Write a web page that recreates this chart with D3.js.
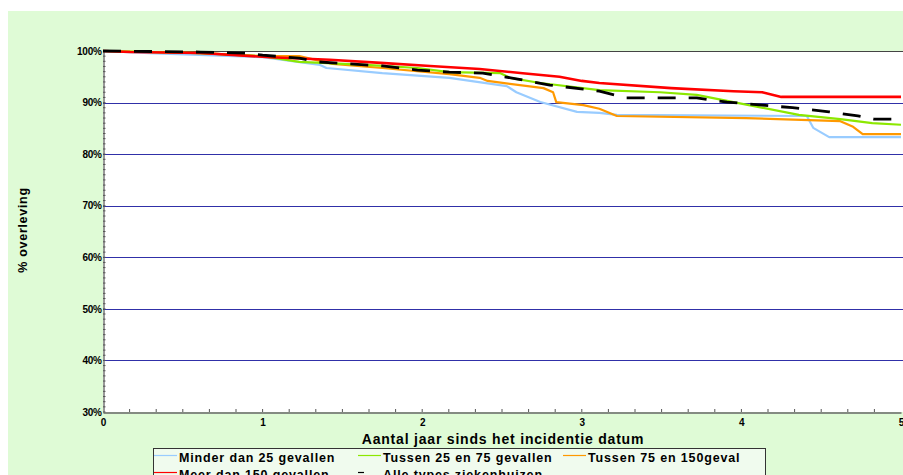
<!DOCTYPE html>
<html>
<head>
<meta charset="utf-8">
<script src="https://cdn.jsdelivr.net/npm/d3@7/dist/d3.min.js"></script>
<style>
  html, body { margin: 0; padding: 0; background: #ffffff; }
  svg { display: block; }
  text { font-family: "Liberation Sans", Arial, Helvetica, sans-serif; fill: #000; }
</style>
</head>
<body>
<div id="chart"></div>
<script>
// Survival (% overleving) by years since incidence date, per hospital volume group
const yTickValues = [30, 40, 50, 60, 70, 80, 90, 100];
const xTickValues = [0, 1, 2, 3, 4, 5];

const minderT = [0, 0.29, 1.0, 1.36, 1.4, 1.75, 2.17, 2.53, 2.59, 2.74, 2.97, 3.11, 3.22, 4.41, 4.45, 4.55, 5.0];
const minderV = [100, 99.6, 98.8, 97.3, 96.7, 95.7, 94.8, 93.2, 92.0, 90.1, 88.2, 88.0, 87.6, 87.4, 85.1, 83.3, 83.3];

const tussen25T = [0, 0.61, 1.0, 1.23, 1.65, 1.97, 2.17, 2.49, 2.55, 2.74, 3.11, 3.49, 3.72, 3.95, 4.36, 4.62, 4.82, 5.0];
const tussen25V = [100, 99.6, 99.0, 97.9, 97.3, 96.7, 95.9, 95.7, 94.8, 93.8, 92.4, 92.0, 91.5, 90.1, 87.6, 86.8, 86.0, 85.7];

const tussen75T = [0, 0.61, 1.0, 1.23, 1.44, 1.75, 2.17, 2.36, 2.41, 2.76, 2.82, 2.84, 3.01, 3.11, 3.22, 4.03, 4.62, 4.7, 4.76, 5.0];
const tussen75V = [100, 99.6, 99.0, 99.0, 97.5, 96.7, 95.5, 94.8, 94.2, 92.8, 92.0, 90.1, 89.5, 88.8, 87.4, 87.0, 86.4, 85.3, 83.9, 83.9];

const meerT = [0, 0.17, 0.61, 1.05, 1.42, 1.74, 2.05, 2.36, 2.63, 2.86, 3.0, 3.11, 3.56, 3.95, 4.13, 4.25, 5.0];
const meerV = [100, 99.8, 99.6, 98.8, 98.3, 97.7, 97.1, 96.5, 95.7, 95.0, 94.2, 93.8, 92.8, 92.2, 92.0, 91.1, 91.1];

const alleT = [0, 0.61, 0.89, 1.0, 1.23, 1.34, 1.55, 1.75, 1.97, 2.17, 2.38, 2.59, 2.8, 3.01, 3.11, 3.28, 3.72, 3.91, 4.13, 4.32, 4.55, 4.73, 4.83, 5.0];
const alleV = [100, 99.8, 99.6, 99.2, 98.6, 97.9, 97.5, 97.1, 96.3, 95.9, 95.7, 94.6, 93.4, 92.6, 92.2, 90.9, 90.9, 90.1, 89.5, 89.0, 88.2, 87.4, 86.8, 86.8];

const seriesNames = ["Minder dan 25 gevallen", "Tussen 25 en 75 gevallen", "Tussen 75 en 150geval",
                     "Meer dan 150 gevallen", "Alle types ziekenhuizen"];

const W = 903, H = 475;
const plot = { left: 103, top: 51, right: 903, bottom: 412 };

const svg = d3.select("#chart").append("svg").attr("width", W).attr("height", H);

// panel background
svg.append("rect").attr("x", 0).attr("y", 0).attr("width", W).attr("height", H).attr("fill", "#ffffff");
svg.append("rect").attr("x", 8).attr("y", 11).attr("width", W - 8).attr("height", H - 11).attr("fill", "#dffbd6");
svg.append("rect").attr("x", plot.left).attr("y", plot.top)
  .attr("width", plot.right - plot.left + 2).attr("height", plot.bottom - plot.top).attr("fill", "#ffffff");

const x = d3.scaleLinear().domain([0, 5]).range([plot.left, 901]);
const y = d3.scaleLinear().domain([30, 100]).range([plot.bottom, plot.top]);

// horizontal grid lines
svg.append("g").selectAll("line")
  .data(yTickValues.filter(v => v > 30 && v < 100))
  .join("line")
  .attr("x1", plot.left).attr("x2", W)
  .attr("y1", d => Math.round(y(d)) + 0.5).attr("y2", d => Math.round(y(d)) + 0.5)
  .attr("stroke", "#3030a8").attr("stroke-width", 1.2);

// top frame line
svg.append("line").attr("x1", plot.left).attr("x2", W)
  .attr("y1", plot.top + 0.5).attr("y2", plot.top + 0.5)
  .attr("stroke", "#444").attr("stroke-width", 1.2);

// Y axis
const yAxis = d3.axisLeft(y).tickValues(yTickValues).tickSize(0).tickPadding(2).tickFormat(d => d + "%");
const gy = svg.append("g").attr("transform", `translate(${plot.left + 0.5},0)`).call(yAxis);
gy.select(".domain").attr("stroke", "#555").attr("stroke-width", 1.2);
gy.selectAll("text").attr("font-size", 10).attr("font-weight", "bold").style("letter-spacing", "-0.3px");
// minor ticks (every 1%)
svg.append("g").selectAll("line")
  .data(d3.range(30, 101, 1))
  .join("line")
  .attr("x1", plot.left).attr("x2", plot.left + 2.5)
  .attr("y1", d => y(d)).attr("y2", d => y(d))
  .attr("stroke", "#555").attr("stroke-width", 1);

// X axis
const xAxis = d3.axisBottom(x).tickValues(xTickValues).tickSize(0).tickPadding(6).tickFormat(d3.format("d"));
const gx = svg.append("g").attr("transform", `translate(0,${plot.bottom + 0.5})`).call(xAxis);
gx.select(".domain").attr("stroke", "#666").attr("stroke-width", 1.5);
gx.selectAll("text").attr("font-size", 10).attr("font-weight", "bold");
// minor ticks (every two months)
svg.append("g").selectAll("line")
  .data(d3.range(1, 30))
  .join("line")
  .attr("x1", d => x(d / 6)).attr("x2", d => x(d / 6))
  .attr("y1", plot.bottom).attr("y2", plot.bottom - 3)
  .attr("stroke", "#555").attr("stroke-width", 1);

// axis titles
svg.append("text").attr("x", 503).attr("y", 444).attr("text-anchor", "middle")
  .attr("font-size", 14).attr("font-weight", "bold").style("letter-spacing", "0.8px")
  .text("Aantal jaar sinds het incidentie datum");
svg.append("text").attr("transform", "translate(27,230) rotate(-90)").attr("text-anchor", "middle")
  .attr("font-size", 12.5).attr("font-weight", "bold").style("letter-spacing", "0.7px")
  .text("% overleving");

// survival curves
const line = d3.line().x(d => x(d[0])).y(d => y(d[1]));
const zip = (ts, vs) => ts.map((t, i) => [t, vs[i]]);
const series = [
  { name: seriesNames[0], data: zip(minderT, minderV), color: "#99ccff", width: 2.2, dash: null },
  { name: seriesNames[2], data: zip(tussen75T, tussen75V), color: "#ff9900", width: 2.2, dash: null },
  { name: seriesNames[1], data: zip(tussen25T, tussen25V), color: "#8ce800", width: 2.2, dash: null },
  { name: seriesNames[3], data: zip(meerT, meerV), color: "#ff0000", width: 2.6, dash: null },
  { name: seriesNames[4], data: zip(alleT, alleV), color: "#000000", width: 2.8, dash: "18,13" }
];
svg.append("g").selectAll("path")
  .data(series)
  .join("path")
  .attr("d", d => line(d.data))
  .attr("fill", "none")
  .attr("stroke", d => d.color)
  .attr("stroke-width", d => d.width)
  .attr("stroke-dasharray", d => d.dash)
  .attr("stroke-linejoin", "round");

// legend
const legend = svg.append("g");
legend.append("rect").attr("x", 153.5).attr("y", 448.5).attr("width", 612).attr("height", 40)
  .attr("fill", "#f0fbee").attr("stroke", "#333").attr("stroke-width", 1);
const legendItems = [
  { name: seriesNames[0], color: "#99ccff", dash: null, col: 0, row: 0 },
  { name: seriesNames[1], color: "#8ce800", dash: null, col: 1, row: 0 },
  { name: seriesNames[2], color: "#ff9900", dash: null, col: 2, row: 0 },
  { name: seriesNames[3], color: "#ff0000", dash: null, col: 0, row: 1 },
  { name: seriesNames[4], color: "#000000", dash: "6,30", col: 1, row: 1 }
];
const colX = [154, 358, 563];
const li = legend.selectAll("g.item").data(legendItems).join("g")
  .attr("transform", d => `translate(${colX[d.col]},${455 + d.row * 17})`);
li.append("line").attr("x1", 0).attr("x2", 23).attr("y1", 0.5).attr("y2", 0.5)
  .attr("stroke", d => d.color).attr("stroke-width", 1.2).attr("stroke-dasharray", d => d.dash);
li.append("text").attr("x", 25).attr("y", 7).attr("font-size", 12.5).attr("font-weight", "bold")
  .style("letter-spacing", "0.85px").text(d => d.name);
</script>
</body>
</html>
